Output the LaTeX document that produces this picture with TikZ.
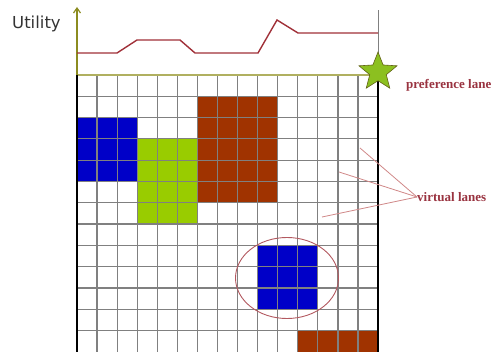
\documentclass[tikz,border=0pt]{standalone}
\usepackage{fontspec}
\setmainfont{Liberation Serif}
\newfontfamily\utilfont{DejaVu Sans}
\usetikzlibrary{shapes.geometric,arrows.meta}
\definecolor{cblue}{HTML}{0000C8}
\definecolor{cgreen}{HTML}{99CC00}
\definecolor{cbrown}{HTML}{A03300}
\definecolor{colive}{HTML}{8C8C20}
\definecolor{colivelight}{HTML}{B0B060}
\definecolor{ccurve}{HTML}{A03038}
\definecolor{ctext}{HTML}{993340}
\definecolor{cpointer}{HTML}{D08888}
\definecolor{cstar}{HTML}{8CC020}
\tikzset{
  gridline/.style={draw=black!50, line width=1.2pt},
  border/.style={draw=black, line width=2pt},
  curve/.style={draw=ccurve, line width=1.4pt},
  pointer/.style={draw=cpointer, line width=0.8pt},
  label/.style={text=ctext, font=\bfseries\fontsize{13}{14}\selectfont, inner sep=0pt, anchor=west},
}
\begin{document}
\begin{tikzpicture}[x=1pt,y=-1pt]
\useasboundingbox (0,0) rectangle (497,352);
\def\cw{20.07}
\def\rh{21.3}
% blocks
\fill[cblue] (77+0*\cw,75+2*\rh) rectangle (77+3*\cw,75+5*\rh);
\fill[cgreen] (77+3*\cw,75+3*\rh) rectangle (77+6*\cw,75+7*\rh);
\fill[cbrown] (77+6*\cw,75+1*\rh) rectangle (77+10*\cw,75+6*\rh);
\fill[cblue] (77+9*\cw,75+8*\rh) rectangle (77+12*\cw,75+11*\rh);
\fill[cbrown] (77+11*\cw,75+12*\rh) rectangle (77+15*\cw,352);
% grid
\foreach \i in {1,...,14} \draw[gridline] (77+\i*\cw,75) -- (77+\i*\cw,352);
\foreach \j in {1,...,12} \draw[gridline] (77,75+\j*\rh) -- (378,75+\j*\rh);
% top line and borders
\coordinate (tl) at (77,75);
\coordinate (tr) at (378,75);
\coordinate (bl) at (77,352);
\coordinate (br) at (378,352);
\coordinate (axtop) at (77,7);
\coordinate (rtop) at (378,10);
\draw[colivelight, line width=1.6pt] (tl) -- (tr);
\draw[border, line width=2.5pt] (tl) -- (bl);
\draw[border] (tr) -- (br);
\draw[gray, line width=0.8pt] (tr) -- (rtop);
\draw[colive, line width=1.2pt, -{Straight Barb[length=5pt,width=7pt]}] (tl) -- (axtop);
% utility curve
\draw[curve] (77,53) -- (117,53) -- (137,40) -- (180,40) -- (195,53) -- (258,53) -- (277,20) -- (298,33) -- (378,33);
% labels
\node[text=black!80, font=\utilfont\fontsize{16.5}{18}\selectfont, inner sep=0pt, anchor=west] (util) at (12,24) {Utility};
\node[star, star points=5, star point ratio=2.3, minimum size=40pt, inner sep=0pt, fill=cstar, draw=colive!70!black, line width=0.6pt] (star) at (378,72) {};
\node[label] (pref) at (406,85) {preference lane};
\node[label] (virt) at (417,197) {virtual lanes};
% pointers
\coordinate (p1) at (360,148);
\coordinate (p2) at (339,172);
\coordinate (p3) at (322,217);
\draw[pointer] (virt.west) -- (p1);
\draw[pointer] (virt.west) -- (p2);
\draw[pointer] (virt.west) -- (p3);
% ellipse
\node[ellipse, draw=ccurve!80, line width=0.9pt, minimum width=103pt, minimum height=81pt, inner sep=0pt] (circ) at (287,278) {};
\end{tikzpicture}
\end{document}
